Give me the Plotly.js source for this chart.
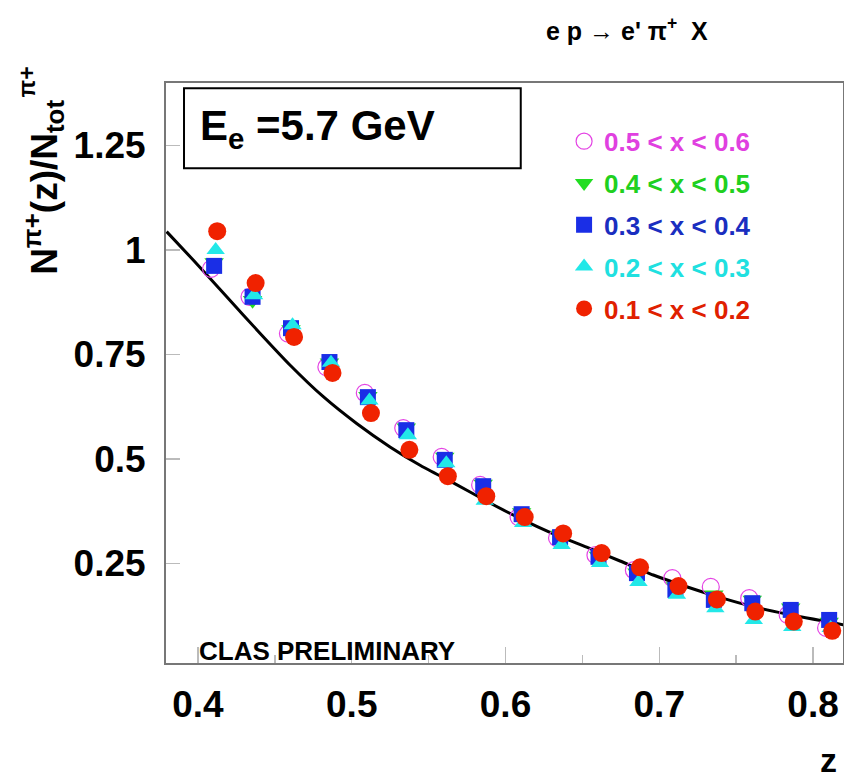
<!DOCTYPE html>
<html>
<head>
<meta charset="utf-8">
<script src="https://cdn.plot.ly/plotly-3.0.1.min.js"></script>
<style>html,body{margin:0;padding:0;background:#fff;}#chart{width:844px;height:773px;}</style>
</head>
<body>
<div id="chart"></div>
<script>
// z bin centres
const zBins = [0.4125,0.4375,0.4625,0.4875,0.5125,0.5375,0.5625,0.5875,0.6125,0.6375,0.6625,0.6875,0.7125,0.7375,0.7625,0.7875,0.8125];
// N(z)/Ntot for each x bin
const ratio_x05_06 = [0.955,0.888,0.800,0.720,0.658,0.574,0.505,0.438,0.361,0.311,0.270,0.234,0.215,0.194,0.167,0.127,0.096];
const ratio_x04_05 = [0.970,0.880,0.810,0.730,0.650,0.575,0.505,0.440,0.372,0.318,0.268,0.228,0.195,0.175,0.163,0.144,0.110];
const ratio_x03_04 = [0.962,0.888,0.813,0.732,0.648,0.569,0.498,0.435,0.368,0.313,0.266,0.227,0.187,0.163,0.155,0.139,0.115];
const ratio_x02_03 = [1.000,0.892,0.820,0.730,0.640,0.557,0.490,0.400,0.347,0.294,0.251,0.206,0.175,0.143,0.115,0.098,0.096];
const ratio_x01_02 = [1.045,0.921,0.792,0.706,0.610,0.522,0.459,0.411,0.361,0.322,0.275,0.241,0.196,0.164,0.135,0.111,0.089];
// small horizontal offsets of each series inside a bin (as seen in the picture)
const zShift = {x05_06:-0.004, x04_05:-0.002, x03_04:-0.002, x02_03:-0.001, x01_02:0.0};
// fitted curve
const curveZ = [0.3796,0.3969,0.4187,0.4403,0.4598,0.4815,0.5032,0.5249,0.545,0.5661,0.5878,0.6094,0.6311,0.6528,0.6745,0.6961,0.7178,0.7395,0.7612,0.7829,0.8202];
const curveY = [1.044,0.976,0.888,0.801,0.725,0.649,0.585,0.529,0.484,0.443,0.399,0.358,0.321,0.289,0.256,0.2225,0.1945,0.169,0.1467,0.129,0.103];
// axis ticks
const yTickVals = [0.25,0.5,0.75,1,1.25];
const yTickText = ['0.25','0.5','0.75','1','1.25'];
const xTickVals = [0.4,0.5,0.6,0.7,0.8];
const xTickText = ['0.4','0.5','0.6','0.7','0.8'];

const FONT = 'Liberation Sans, Arial, Helvetica, sans-serif';
const shiftZ = s => zBins.map(z => z + s);

const series = [
  {name:'0.5 < x < 0.6', y:ratio_x05_06, dz:zShift.x05_06, color:'#e444e4', symbol:'circle-open', size:17, line:{color:'#e444e4', width:1.2}},
  {name:'0.4 < x < 0.5', y:ratio_x04_05, dz:zShift.x04_05, color:'#22dd22', symbol:'triangle-down', size:17, line:{width:0}},
  {name:'0.3 < x < 0.4', y:ratio_x03_04, dz:zShift.x03_04, color:'#1a2ee6', symbol:'square', size:16, line:{width:0}},
  {name:'0.2 < x < 0.3', y:ratio_x02_03, dz:zShift.x02_03, color:'#22e8e8', symbol:'triangle-up', size:16, line:{width:0}},
  {name:'0.1 < x < 0.2', y:ratio_x01_02, dz:zShift.x01_02, color:'#f02200', symbol:'circle', size:18, line:{width:0}}
];
const textColors = ['#e040e0','#20d020','#1a2ec0','#20e0e0','#e02000'];

const traces = [{
  x: curveZ, y: curveY, mode:'lines', type:'scatter',
  line:{color:'#000', width:3, shape:'spline', smoothing:0.6}, showlegend:false, hoverinfo:'skip'
}];
series.forEach((s,i) => {
  traces.push({
    x: shiftZ(s.dz), y: s.y, mode:'markers', type:'scatter',
    name: '<span style="color:'+textColors[i]+'">'+s.name+'</span>',
    legendgroup:'g'+i,
    marker:{symbol:s.symbol, size:s.size, color:s.color, line:s.line}
  });
});

const layout = {
  width:844, height:773,
  margin:{l:166, r:1, t:83, b:110, pad:0},
  paper_bgcolor:'#fff', plot_bgcolor:'#fff',
  font:{family:FONT, color:'#000'},
  showlegend:true,
  legend:{x:0.588, xanchor:'left', y:0.94, yanchor:'top', bgcolor:'rgba(0,0,0,0)',
          font:{family:FONT, size:26, weight:700}, tracegroupgap:5, itemwidth:30, traceorder:'grouped'},
  xaxis:{range:[0.3792,0.8195], tickvals:xTickVals, ticktext:xTickText,
         ticks:'inside', ticklen:16, tickcolor:'#bbb', tickwidth:1.5,
         minor:{dtick:0.05, ticks:'inside', ticklen:8, tickcolor:'#bbb', tickwidth:1.5},
         showgrid:false, zeroline:false, showline:true, linecolor:'#777', linewidth:2, mirror:true,
         tickfont:{family:FONT, size:37, weight:700}, ticklabelstandoff:8},
  yaxis:{range:[0.012,1.3995], tickvals:yTickVals, ticktext:yTickText,
         ticks:'inside', ticklen:14, tickcolor:'#bbb', tickwidth:1.5,
         showgrid:false, zeroline:false, showline:true, linecolor:'#777', linewidth:2, mirror:true,
         tickfont:{family:FONT, size:37, weight:700}, ticklabelstandoff:11},
  shapes:[{type:'rect', xref:'paper', yref:'paper', x0:0.0266, x1:0.524, y0:0.853, y1:0.991,
           line:{color:'#000', width:2}, fillcolor:'#fff', layer:'below'}],
  annotations:[
    {xref:'paper', yref:'paper', x:0.047, y:0.922, xanchor:'left', yanchor:'middle', showarrow:false,
     text:'E<sub>e</sub> =5.7 GeV', font:{family:FONT, size:42, weight:700}},
    {xref:'paper', yref:'paper', x:0.681, y:1.093, xanchor:'center', yanchor:'middle', showarrow:false,
     text:"e p → e' π<sup>+</sup>  X", font:{family:FONT, size:25, weight:700}},
    {xref:'paper', yref:'paper', x:0.046, y:-0.008, xanchor:'left', yanchor:'bottom', showarrow:false,
     text:'CLAS PRELIMINARY', font:{family:FONT, size:26, weight:700}},
    {xref:'paper', yref:'paper', x:0.978, y:-0.167, xanchor:'center', yanchor:'middle', showarrow:false,
     text:'z', font:{family:FONT, size:34, weight:700}},
    {xref:'paper', yref:'paper', x:-0.181, y:0.82, xanchor:'center', yanchor:'middle', showarrow:false, textangle:-90,
     text:'N<sup>π+</sup>(z)/N<sub>tot</sub>', font:{family:FONT, size:37, weight:700}},
    {xref:'paper', yref:'paper', x:-0.206, y:1.002, xanchor:'center', yanchor:'middle', showarrow:false, textangle:-90,
     text:'π+', font:{family:FONT, size:23, weight:700}}
  ]
};

Plotly.newPlot('chart', traces, layout, {staticPlot:true, displayModeBar:false});
</script>
</body>
</html>
